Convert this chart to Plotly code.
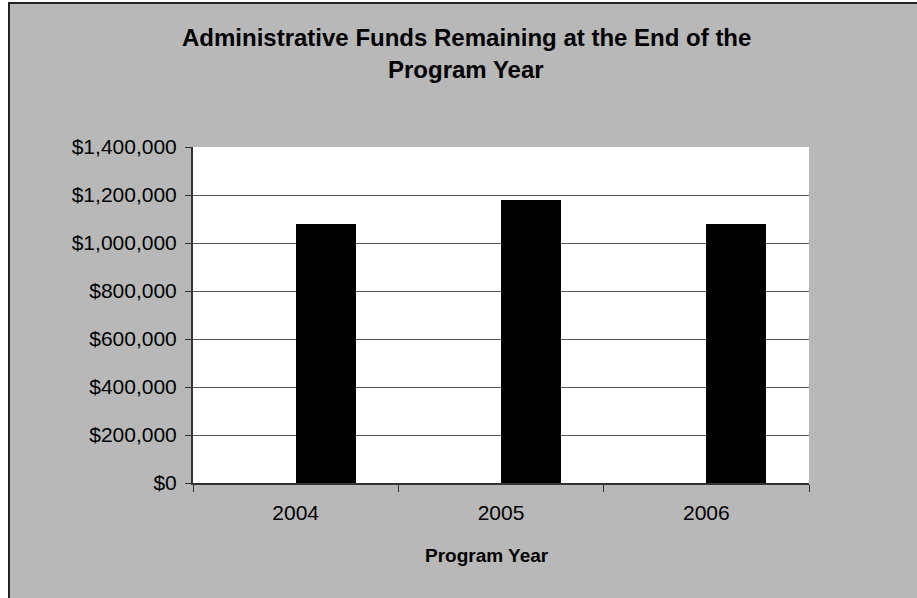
import plotly.graph_objects as go

years = ["2004", "2005", "2006"]
funds_remaining = [1078000, 1179000, 1078000]
y_tick_values = [0, 200000, 400000, 600000, 800000, 1000000, 1200000, 1400000]
y_tick_labels = ["$0", "$200,000", "$400,000", "$600,000", "$800,000",
                 "$1,000,000", "$1,200,000", "$1,400,000"]
title_lines = ["Administrative Funds Remaining at the End of the", "Program Year"]
x_title = "Program Year"

W, H = 917, 598
L, R, T, B = 193, 108, 147, 115
PW, PH = W - L - R, H - T - B
BG = "#B8B8B8"
FONT = "Liberation Sans, Arial, sans-serif"


def px_x(px):
    return (px - L) / PW


def px_y(py):
    return (H - B - py) / PH


fig = go.Figure()
fig.add_trace(go.Bar(
    x=years, y=funds_remaining,
    marker=dict(color="#000000", line=dict(color="#000000", width=0)),
    width=0.292, offset=0,
    showlegend=False,
))

shapes = [
    # white margins outside the chart border
    dict(type="rect", xref="paper", yref="paper", x0=px_x(0), x1=px_x(8),
         y0=px_y(H), y1=px_y(0), fillcolor="white", line=dict(width=0), layer="above"),
    dict(type="rect", xref="paper", yref="paper", x0=px_x(0), x1=px_x(W),
         y0=px_y(2), y1=px_y(0), fillcolor="white", line=dict(width=0), layer="above"),
    # border lines
    dict(type="line", xref="paper", yref="paper", x0=px_x(9), x1=px_x(9),
         y0=px_y(H), y1=px_y(2), line=dict(color="#222222", width=2), layer="above"),
    dict(type="line", xref="paper", yref="paper", x0=px_x(8), x1=px_x(W),
         y0=px_y(3), y1=px_y(3), line=dict(color="#222222", width=2), layer="above"),
]

annotations = [
    dict(text="<b>%s</b>" % title_lines[0], xref="paper", yref="paper",
         x=px_x(466), y=px_y(37), xanchor="center", yanchor="middle",
         showarrow=False, font=dict(family=FONT, size=24, color="#000000")),
    dict(text="<b>%s</b>" % title_lines[1], xref="paper", yref="paper",
         x=px_x(466), y=px_y(70), xanchor="center", yanchor="middle",
         showarrow=False, font=dict(family=FONT, size=24, color="#000000")),
    dict(text="<b>%s</b>" % x_title, xref="paper", yref="paper",
         x=px_x(487), y=px_y(555), xanchor="center", yanchor="middle",
         showarrow=False, font=dict(family=FONT, size=19, color="#000000")),
]

fig.update_layout(
    width=W, height=H, autosize=False,
    margin=dict(l=L, r=R, t=T, b=B, pad=0),
    paper_bgcolor=BG, plot_bgcolor="white",
    font=dict(family=FONT, size=21, color="#000000"),
    shapes=shapes, annotations=annotations,
    bargap=0,
    xaxis=dict(
        type="category", tickson="boundaries", ticks="outside", ticklen=7,
        tickcolor="#333333", tickwidth=1,
        showline=True, linecolor="#333333", linewidth=2,
        showgrid=False, tickfont=dict(size=21, family=FONT),
        range=[-0.5, 2.5], ticklabelstandoff=10,
    ),
    yaxis=dict(
        range=[0, 1400000], tickvals=y_tick_values, ticktext=y_tick_labels,
        ticks="outside", ticklen=6, tickcolor="#333333", tickwidth=1,
        showline=True, linecolor="#333333", linewidth=2,
        showgrid=True, gridcolor="#555555", gridwidth=1,
        zeroline=False, tickfont=dict(size=21, family=FONT),
        ticklabelstandoff=4,
    ),
)

fig.write_html(
    "out.html",
    config={"displayModeBar": False},
    post_script="document.body.style.margin='0';document.body.style.overflow='hidden';",
)
